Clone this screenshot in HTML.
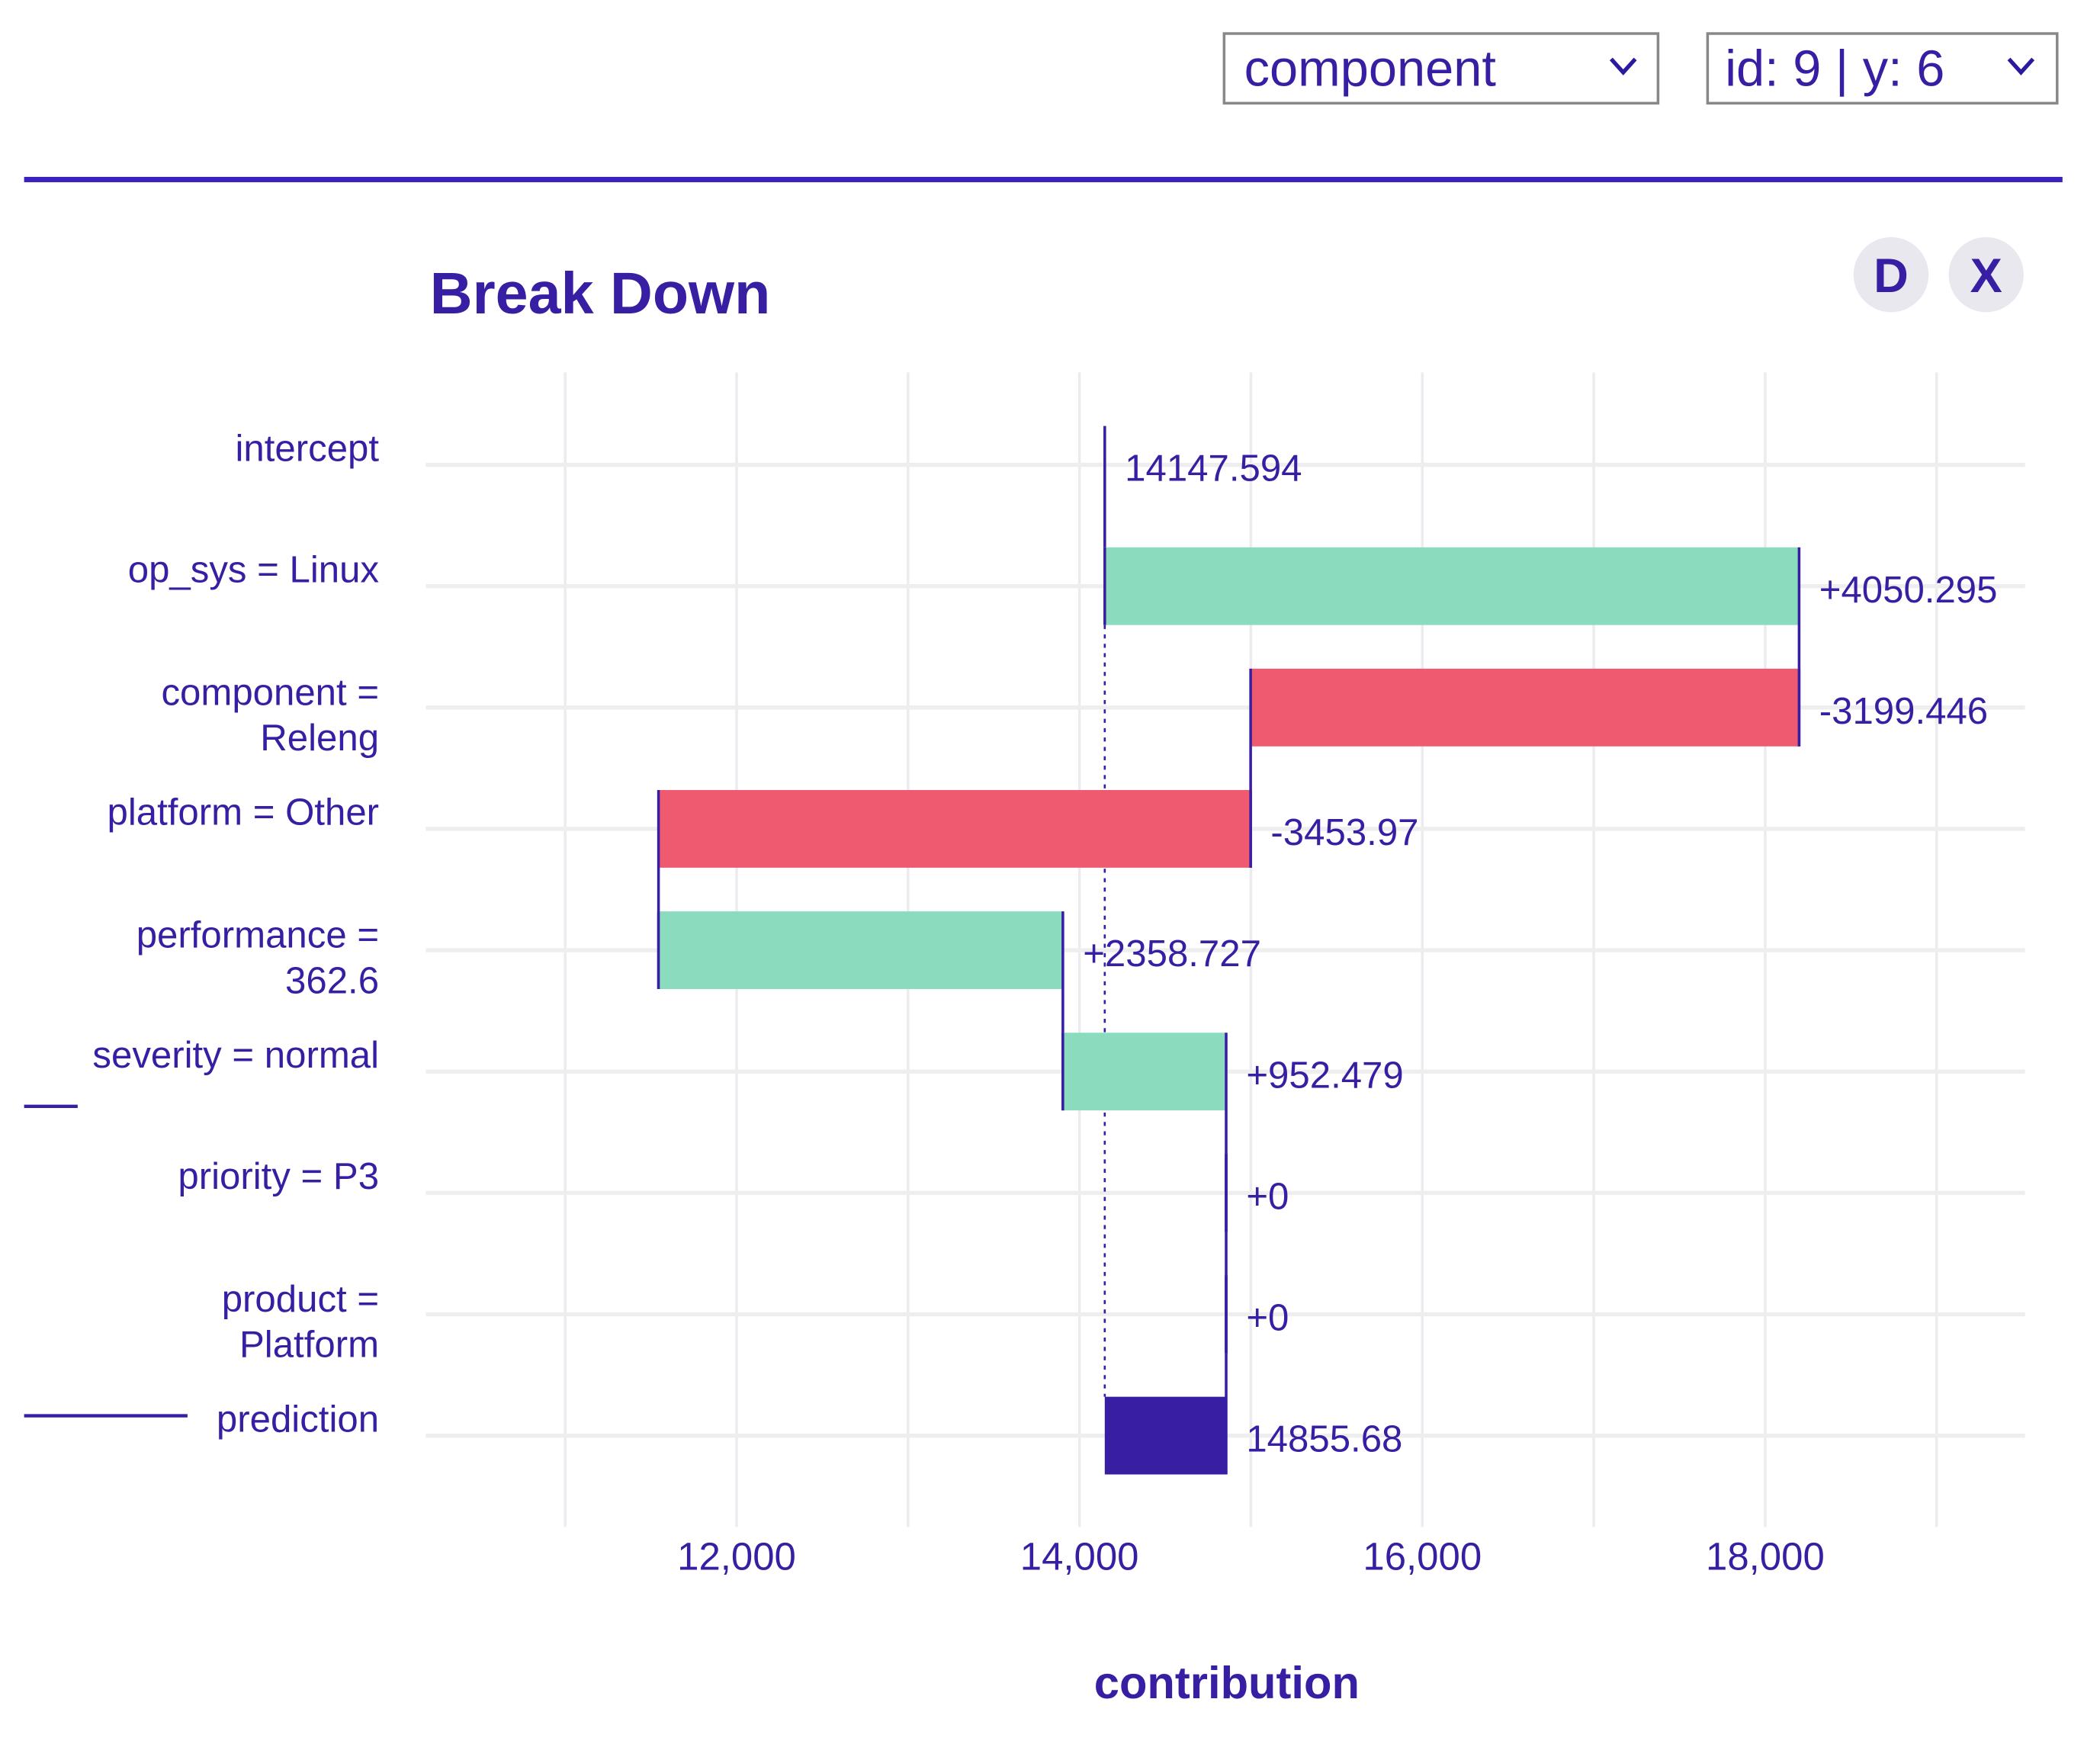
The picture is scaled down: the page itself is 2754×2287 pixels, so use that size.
<!DOCTYPE html>
<html><head><meta charset="utf-8"><style>
html,body{margin:0;padding:0;background:#fff;}
svg{display:block;}
text{font-family:"Liberation Sans",sans-serif;fill:#371ea3;}
</style></head><body>
<svg id="chart" width="2754" height="2287" viewBox="0 0 1568 1302" xmlns="http://www.w3.org/2000/svg">
<g>
<rect x="914" y="25" width="324" height="52" fill="#fff" stroke="#888" stroke-width="2"/>
<text x="929" y="64" font-size="38" fill="#2a1aa0">component</text>
<path d="M1203 44 L1212 54 L1221 44" fill="none" stroke="#2a1aa0" stroke-width="3"/>
</g>
<g>
<rect x="1275" y="25" width="261" height="52" fill="#fff" stroke="#888" stroke-width="2"/>
<text x="1288" y="64" font-size="38" fill="#2a1aa0">id: 9 | y: 6</text>
<path d="M1500 44 L1509 54 L1518 44" fill="none" stroke="#2a1aa0" stroke-width="3"/>
</g>
<rect x="18" y="132" width="1522" height="4" fill="#3a22c0"/>
<text x="321" y="234" font-size="44" font-weight="bold">Break Down</text>
<g><circle cx="1412" cy="205" r="28" fill="#e8e8ee"/><text x="1412" y="218" font-size="36" font-weight="bold" text-anchor="middle">D</text></g>
<g><circle cx="1483" cy="205" r="28" fill="#e8e8ee"/><text x="1483" y="218" font-size="36" font-weight="bold" text-anchor="middle">X</text></g>
<line x1="18" y1="826" x2="58" y2="826" stroke="#371ea3" stroke-width="2.5"/>
<line x1="18" y1="1057" x2="140" y2="1057" stroke="#371ea3" stroke-width="2.5"/>
<g id="grid"></g><g id="bars"></g><g id="labels"></g>
<text x="916" y="1268" font-size="34" font-weight="bold" text-anchor="middle">contribution</text>
</svg>
<script>
const rowLabels = [["intercept"],["op_sys = Linux"],["component =","Releng"],["platform = Other"],["performance =","362.6"],["severity = normal"],["priority = P3"],["product =","Platform"],["prediction"]];
const contributions = [14147.594, 4050.295, -3199.446, -3453.97, 2358.727, 952.479, 0, 0, 14855.68];
const valueLabels = ["14147.594","+4050.295","-3199.446","-3453.97","+2358.727","+952.479","+0","+0","14855.68"];
const gridValues = [11000,12000,13000,14000,15000,16000,17000,18000,19000];
const tickValues = [12000,14000,16000,18000];
const tickLabels = ["12,000","14,000","16,000","18,000"];
const NS="http://www.w3.org/2000/svg";
const x = v => 550 + (v-12000)*0.128;
const y = i => 347 + i*90.6;
function mk(tag, attrs, parent){const e=document.createElementNS(NS,tag);for(const k in attrs)e.setAttribute(k,attrs[k]);parent.appendChild(e);return e;}
const grid=document.getElementById('grid'), bars=document.getElementById('bars'), labels=document.getElementById('labels');
gridValues.forEach(v=>{const l=mk('line',{x1:x(v),x2:x(v),y1:278,y2:1140,stroke:'#ececf0','stroke-width':2},grid);

});
rowLabels.forEach((r,i)=>{const l=mk('line',{x1:318,x2:1512,y1:y(i),y2:y(i),stroke:'#eeeeee','stroke-width':3},grid);


const t=mk('text',{x:283,'font-size':28,'text-anchor':'end'},labels);


if(r.length===1){t.setAttribute('y',y(i)-3);t.textContent=r[0];}
else{r.forEach((s,k)=>{const ts=mk('tspan',{x:283,y:y(i)-2+k*34},t);ts.textContent=s;});}});
tickValues.forEach((v,i)=>{const t=mk('text',{x:x(v),y:1172,'font-size':29,'text-anchor':'middle'},labels);


t.textContent=tickLabels[i];});
const n=contributions.length, intercept=contributions[0];
const dl=mk('line',{x1:x(intercept),x2:x(intercept),y1:y(1)+29,y2:y(n-1)-29,stroke:'#371ea3','stroke-width':1.5,'stroke-dasharray':'3,4'},bars);


const il=mk('line',{x1:x(intercept),x2:x(intercept),y1:y(0)-29,y2:y(1)-29,stroke:'#371ea3','stroke-width':2},bars);


let cum=intercept;
for(let i=1;i<n;i++){
  let a,b,col;
  if(i===n-1){a=intercept;b=contributions[i];col='#371ea3';}
  else{a=cum;b=cum+contributions[i];col=contributions[i]>=0?'#8bdcbe':'#f05a71';}
  const x0=Math.min(x(a),x(b)), w=Math.abs(x(b)-x(a));
  const r=mk('rect',{x:x0,y:y(i)-29,width:Math.max(w,0.01),height:58,fill:col},bars);
  
  
  if(i<n-1){
    const cl=mk('line',{x1:x(b),x2:x(b),y1:y(i)-29,y2:y(i+1)+29,stroke:'#371ea3','stroke-width':2},bars);
    
    
    const sl=mk('line',{x1:x(a),x2:x(a),y1:y(i)-29,y2:y(i)+29,stroke:'#371ea3','stroke-width':2},bars);
    
    
    cum=b;
  }
  const lx=x(Math.max(a,b));
  const t=mk('text',{x:lx+15,y:y(i)+12,'font-size':28},labels);
  
  
  t.textContent=valueLabels[i];
}
const t0=mk('text',{x:x(intercept)+15,y:y(0)+12,'font-size':28},labels);


t0.textContent=valueLabels[0];
</script>
</body></html>
